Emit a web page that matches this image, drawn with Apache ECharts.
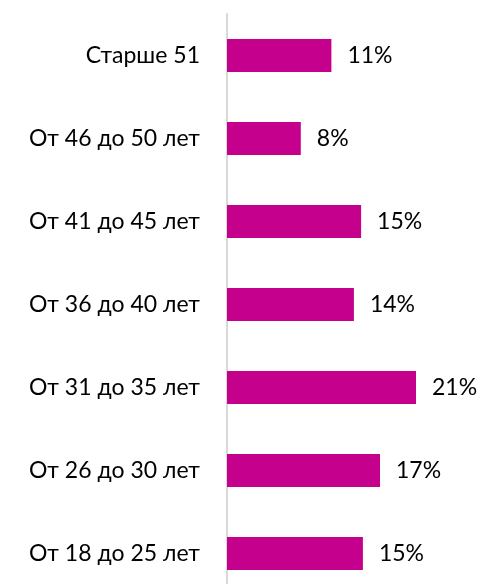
<!DOCTYPE html>
<html>
<head>
<meta charset="utf-8">
<script src="https://cdn.jsdelivr.net/npm/echarts@6/dist/echarts.min.js"></script>
<style>
  html, body { margin: 0; padding: 0; background: #fff; }
  #chart { width: 481px; height: 584px; }
</style>
</head>
<body>
<div id="chart"></div>
<script>
// age groups, bottom to top
const categories = ['От 18 до 25 лет', 'От 26 до 30 лет', 'От 31 до 35 лет', 'От 36 до 40 лет',
    'От 41 до 45 лет', 'От 46 до 50 лет', 'Старше 51'];
// shares in %
const values = [15.1, 17, 21, 14.1, 14.9, 8.2, 11.6];
const labels = ['15%', '17%', '21%', '14%', '15%', '8%', '11%'];

let chart = echarts.init(document.getElementById('chart'));
chart.setOption({
    animation: false,
    grid: {
        left: 227,
        right: 2,
        top: 14,
        height: 581,
        outerBoundsMode: 'none'
    },
    xAxis: {
        type: 'value',
        min: 0,
        max: 28,
        show: false
    },
    yAxis: {
        type: 'category',
        data: categories,
        axisTick: { show: false },
        axisLine: {
            show: true,
            lineStyle: { color: '#d9d9d9', width: 2 }
        },
        axisLabel: {
            margin: 27,
            color: '#000',
            fontSize: 23,
            fontFamily: 'Lato'
        }
    },
    series: [{
        type: 'bar',
        data: values,
        barWidth: 33,
        itemStyle: { color: '#c4008c' },
        label: {
            show: true,
            position: 'right',
            distance: 16,
            color: '#000',
            fontSize: 23,
            fontFamily: 'Lato',
            formatter: (p) => labels[p.dataIndex]
        }
    }]
});
</script>
</body>
</html>
